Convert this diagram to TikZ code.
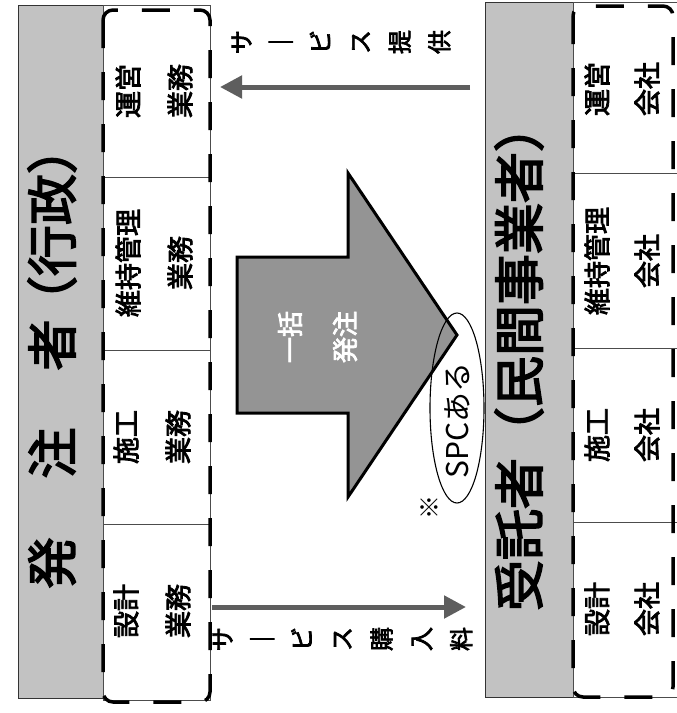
\documentclass[tikz,border=0pt]{standalone}
\usepackage{fontspec}
\newfontfamily\jp{Noto Sans CJK JP}
\newfontfamily\jpb{Noto Sans CJK JP}[FakeBold=3]
\usetikzlibrary{arrows.meta}
\definecolor{bandgray}{HTML}{C2C2C2}
\definecolor{arrowgray}{HTML}{949494}
\definecolor{flowgray}{HTML}{5E5E5E}
\begin{document}
\begin{tikzpicture}[x=1pt,y=-1pt,
  band/.style={draw=black!80, line width=0.9pt, fill=bandgray},
  cellline/.style={draw=black!70, line width=0.7pt},
  dashframe/.style={draw=black, line width=3.5pt, dash pattern=on 28pt off 24pt, rounded corners=10pt},
  titletxt/.style={rotate=90, inner sep=0pt, font=\jpb\fontsize{51}{51}\selectfont},
  celltxt/.style={rotate=90, align=center, inner sep=0pt},
  flowtxt/.style={rotate=90, align=center, inner sep=0pt},
  flow/.style={draw=flowgray, line width=5pt, -{Triangle[length=22pt,width=22pt]}},
  hand/.style={rotate=90, inner sep=0pt, font=\jp\fontsize{30}{30}\selectfont}
]
\useasboundingbox (0,0) rectangle (677,713);
\fill[white] (0,0) rectangle (677,713);

% ---------- left block: 発注者（行政）
\draw[band] (18,5) rectangle (103,698);
\draw[cellline, fill=white] (103,5) rectangle (210,700);
\foreach \yy in {177,350,524} \draw[cellline] (103,\yy) -- (210,\yy);
\draw[dashframe] (103,10) rectangle (210,702);

\node[titletxt] (lt1) at (52,563) {発};
\node[titletxt] (lt2) at (52,453) {注};
\node[titletxt] (lt3) at (52,345) {者};
\node[titletxt] (lt4) at (52,225) {（行政）};

\begin{scope}[every node/.style={celltxt, font=\jpb\fontsize{27}{52}\selectfont}]
\node (l1) at (154,91)  {運営\\業務};
\node (l2) at (154,263) {維持管理\\業務};
\node (l3) at (152,437) {施工\\業務};
\node (l4) at (152,611) {設計\\業務};
\end{scope}

% ---------- right block: 受託者（民間事業者）
\draw[band] (485,2) rectangle (573,697);
\draw[cellline, fill=white] (573,2) rectangle (677,697);
\foreach \yy in {173,348,522} \draw[cellline] (573,\yy) -- (677,\yy);
\draw[dashframe] (573,6) rectangle (673,697);

\node[titletxt] (rt) at (519,356) {受託者（民間事業者）};

\begin{scope}[every node/.style={celltxt, font=\jpb\fontsize{27}{50}\selectfont}]
\node (r1) at (622,89)  {運営\\会社};
\node (r2) at (622,261) {維持管理\\会社};
\node (r3) at (622,435) {施工\\会社};
\node (r4) at (622,609) {設計\\会社};
\end{scope}

% ---------- central block arrow 一括発注
\draw[fill=arrowgray, draw=black, line width=3pt, line join=miter]
  (237,257) -- (348,257) -- (348,173) -- (457,335) -- (348,497) -- (348,413) -- (237,413) -- cycle;
\node[rotate=90, text=white, font=\jpb\fontsize{26}{26}\selectfont] (a1) at (290,337) {一括};
\node[rotate=90, text=white, font=\jpb\fontsize{26}{26}\selectfont] (a2) at (345,337) {発注};

% ---------- service flows
\coordinate (s1) at (470,87);
\coordinate (s2) at (220,87);
\draw[flow] (s1) -- (s2);
\node[flowtxt, font=\jpb\fontsize{24}{39.6}\selectfont] (st) at (341,42)
  {サ\\｜\\ビ\\ス\\提\\供};

\coordinate (p1) at (212,607);
\coordinate (p2) at (466,607);
\draw[flow] (p1) -- (p2);
\node[flowtxt, font=\jpb\fontsize{24}{39.8}\selectfont] (pt) at (342.5,639)
  {サ\\｜\\ビ\\ス\\購\\入\\料};

% ---------- handwritten note
\draw[line width=1.1pt] (457,408) ellipse [x radius=27pt, y radius=95pt];
\node[hand] (h1) at (457,420) {SPCある};
\node[hand, font=\jp\fontsize{24}{24}\selectfont] (h2) at (430,507) {※};
\end{tikzpicture}
\end{document}
